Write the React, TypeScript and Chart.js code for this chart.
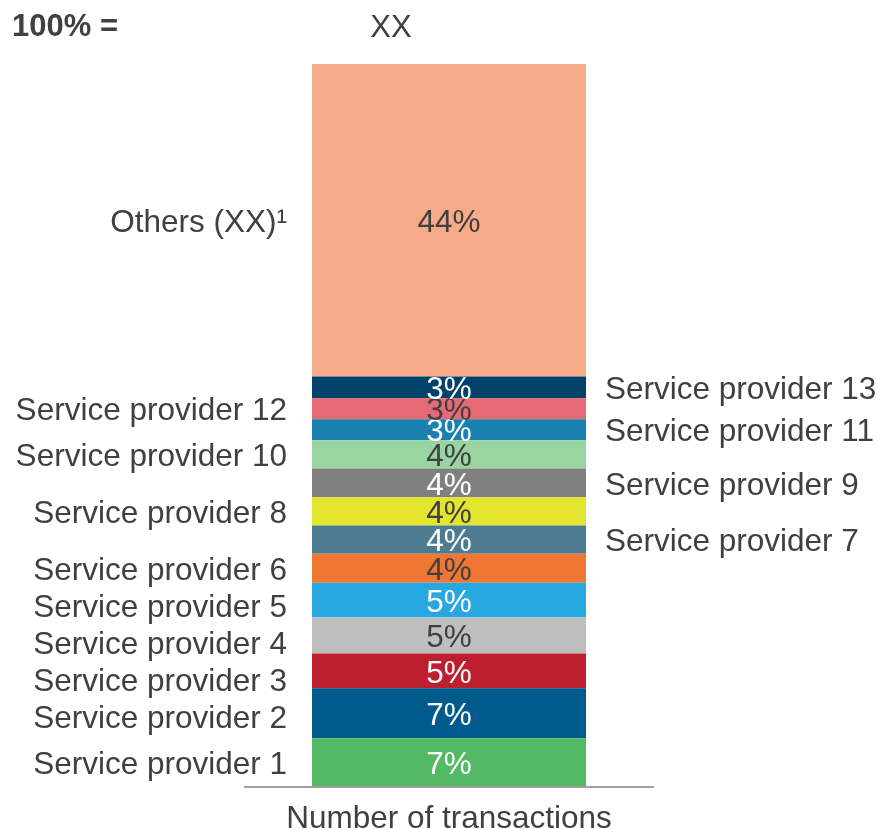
import React, { useEffect, useRef } from "react";
import { Chart, registerables } from "chart.js";

Chart.register(...registerables);

// Segments from bottom to top
const providers = [
  "Service provider 1",
  "Service provider 2",
  "Service provider 3",
  "Service provider 4",
  "Service provider 5",
  "Service provider 6",
  "Service provider 7",
  "Service provider 8",
  "Service provider 9",
  "Service provider 10",
  "Service provider 11",
  "Service provider 12",
  "Service provider 13",
  "Others (XX)¹",
];
const shares = [6.6, 6.9, 4.8, 5.0, 4.8, 4.0, 3.9, 3.9, 4.0, 3.9, 2.9, 2.9, 3.0, 43.2];
const shareLabels = ["7%", "7%", "5%", "5%", "5%", "4%", "4%", "4%", "4%", "4%", "3%", "3%", "3%", "44%"];
const labelSide = ["L", "L", "L", "L", "L", "L", "R", "L", "R", "L", "R", "L", "R", "L"];
const colors = [
  "#53B964",
  "#005A8C",
  "#BD1F2E",
  "#BFBFBF",
  "#27A8E0",
  "#F07634",
  "#4D7B8F",
  "#E4E52F",
  "#808080",
  "#98D5A0",
  "#1A80AF",
  "#E56A75",
  "#00426A",
  "#F6AB88",
];
const valueColors = [
  "#FFFFFF",
  "#FFFFFF",
  "#FFFFFF",
  "#404040",
  "#FFFFFF",
  "#404040",
  "#FFFFFF",
  "#404040",
  "#FFFFFF",
  "#404040",
  "#FFFFFF",
  "#404040",
  "#FFFFFF",
  "#404040",
];
const categories = [""];
const axisTitle = "Number of transactions";
const totalLabel = "100% =";
const totalValue = "XX";

const FONT = '"Liberation Sans", Arial, sans-serif';
const TEXT = "#404040";
const DY = 3;

export default function App() {
  const ref = useRef<HTMLCanvasElement | null>(null);

  useEffect(() => {
    if (!ref.current) return;
    const total = shares.reduce((a, b) => a + b, 0);

    const labelsPlugin = {
      id: "segLabels",
      afterDatasetsDraw(chart: any) {
        const ctx = chart.ctx as CanvasRenderingContext2D;
        const area = chart.chartArea;
        ctx.save();
        const items: { side: string; y: number; x: number; text: string }[] = [];
        chart.data.datasets.forEach((_ds: any, i: number) => {
          const bar: any = chart.getDatasetMeta(i).data[0];
          if (!bar) return;
          const cy = (bar.y + bar.base) / 2;
          ctx.font = `31.5px ${FONT}`;
          ctx.fillStyle = valueColors[i];
          ctx.textAlign = "center";
          ctx.textBaseline = "middle";
          ctx.fillText(shareLabels[i], bar.x, cy + DY);
          const half = bar.width / 2;
          if (labelSide[i] === "L") {
            items.push({ side: "L", y: cy, x: bar.x - half - 25, text: providers[i] });
          } else {
            items.push({ side: "R", y: cy, x: bar.x + half + 19, text: providers[i] });
          }
        });
        ["L", "R"].forEach((side) => {
          const list = items.filter((it) => it.side === side).sort((a, b) => a.y - b.y);
          for (let k = 1; k < list.length; k++) {
            if (list[k].y < list[k - 1].y + 37) list[k].y = list[k - 1].y + 37;
          }
          list.forEach((it) => {
            ctx.font = `31.5px ${FONT}`;
            ctx.fillStyle = TEXT;
            ctx.textAlign = side === "L" ? "right" : "left";
            ctx.textBaseline = "middle";
            ctx.fillText(it.text, it.x, it.y + DY);
          });
        });
        // baseline axis line
        ctx.strokeStyle = "#A0A0A0";
        ctx.lineWidth = 2;
        ctx.beginPath();
        ctx.moveTo(area.left, area.bottom + 1);
        ctx.lineTo(area.right, area.bottom + 1);
        ctx.stroke();
        // axis title
        const cx = (area.left + area.right) / 2;
        ctx.font = `31.5px ${FONT}`;
        ctx.fillStyle = TEXT;
        ctx.textAlign = "center";
        ctx.textBaseline = "middle";
        ctx.fillText(axisTitle, cx, area.bottom + 30 + DY);
        // header
        ctx.font = `bold 31px ${FONT}`;
        ctx.textAlign = "left";
        ctx.fillText(totalLabel, 12, 24 + DY);
        ctx.font = `31px ${FONT}`;
        ctx.textAlign = "center";
        ctx.fillText(totalValue, 391, 25 + DY);
        ctx.restore();
      },
    };

    const chart = new Chart(ref.current, {
      type: "bar",
      data: {
        labels: categories,
        datasets: shares.map((v, i) => ({
          label: providers[i],
          data: [v],
          backgroundColor: colors[i],
          borderWidth: 0,
          barPercentage: 1,
          categoryPercentage: 274 / 410,
        })),
      },
      options: {
        responsive: false,
        animation: false,
        events: [],
        layout: { padding: { left: 244, right: 229, top: 64, bottom: 43 } },
        plugins: { legend: { display: false }, tooltip: { enabled: false }, title: { display: false } },
        scales: {
          x: { stacked: true, display: false },
          y: { stacked: true, display: false, min: 0, max: total },
        },
      },
      plugins: [labelsPlugin],
    });
    return () => chart.destroy();
  }, []);

  return (
    <div style={{ position: "fixed", left: 0, top: 0, width: 883, height: 829, background: "#fff" }}>
      <canvas ref={ref} width={883} height={829} />
    </div>
  );
}
